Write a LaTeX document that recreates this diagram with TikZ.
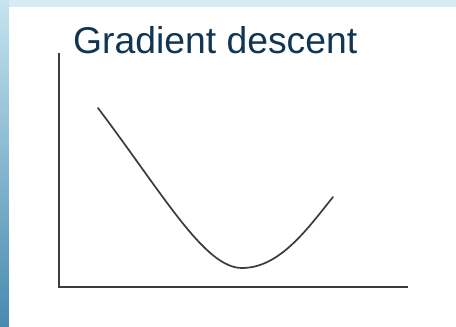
\documentclass[tikz,border=0pt]{standalone}
\usepackage{fontspec}
\setmainfont{Liberation Sans}
\definecolor{titlecol}{RGB}{16,54,84}
\definecolor{topband}{RGB}{214,236,245}
\definecolor{lefttop}{RGB}{196,228,240}
\definecolor{leftbot}{RGB}{72,138,176}
\definecolor{axiscol}{RGB}{60,60,60}
\tikzset{
  axisline/.style={draw=axiscol, line width=2.2pt},
  curveline/.style={draw=axiscol, line width=1.7pt, line cap=round},
  titletext/.style={text=titlecol, font=\fontsize{37.3}{40}\selectfont, anchor=base west, inner sep=0pt}
}
\begin{document}
\begin{tikzpicture}[x=1pt,y=-1pt]
\useasboundingbox (0,0) rectangle (456,327);
\fill[topband] (0,0) rectangle (456,327);
\shade[top color=lefttop, bottom color=leftbot] (0,0) rectangle (9,327);
\fill[white] (9,7) rectangle (456,327);
\node[titletext] (title) at (73,53) {Gradient descent};
\coordinate (ytop) at (59,53);
\coordinate (origin) at (59,287);
\coordinate (xend) at (408,287);
\draw[axisline] (ytop) -- (origin) -- (xend);
\coordinate (cstart) at (98,108);
\coordinate (cmin) at (242,268);
\coordinate (cend) at (333,197);
\draw[curveline] (cstart) .. controls (165,197) and (205,268) .. (cmin)
  .. controls (280,268) and (308,228) .. (cend);
\end{tikzpicture}
\end{document}
